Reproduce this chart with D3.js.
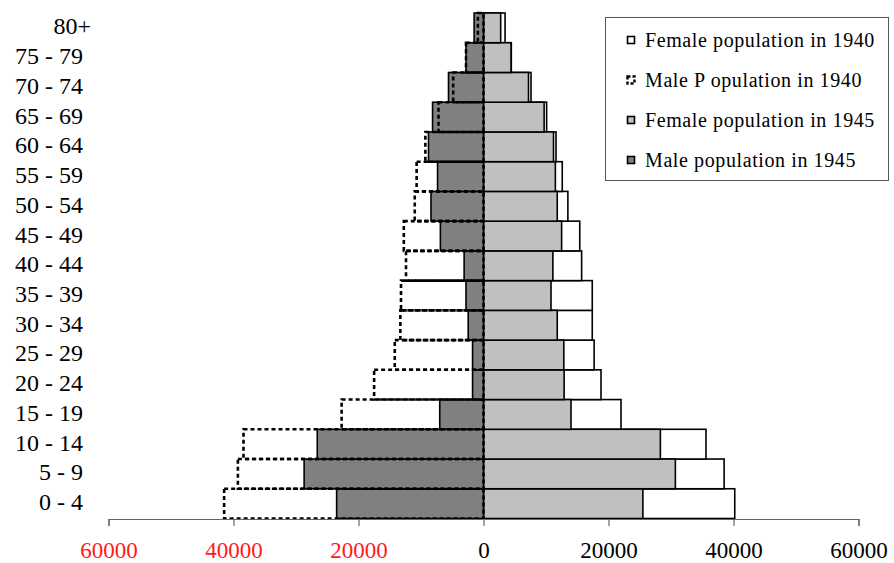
<!DOCTYPE html>
<html>
<head>
<meta charset="utf-8">
<script src="https://cdn.jsdelivr.net/npm/d3@7"></script>
<style>
  html, body { margin: 0; padding: 0; background: #fff; }
  svg { display: block; font-family: "Liberation Serif", "Times New Roman", serif; }
</style>
</head>
<body>
<svg id="chart" width="894" height="563"></svg>
<script>
const categories = ["0 - 4","5 - 9","10 - 14","15 - 19","20 - 24","25 - 29","30 - 34","35 - 39","40 - 44","45 - 49","50 - 54","55 - 59","60 - 64","65 - 69","70 - 74","75 - 79","80+"];
const female1940 = [40200, 38500, 35600, 22000, 18800, 17700, 17400, 17400, 15700, 15400, 13500, 12600, 11600, 10100, 7600, 4450, 3450];
const male1940   = [41500, 39300, 38400, 22700, 17500, 14200, 13300, 13200, 12400, 12750, 11000, 10700, 9300, 7200, 4850, 2800, 900];
const female1945 = [25500, 30700, 28300, 14000, 12900, 12850, 11800, 10800, 11100, 12500, 11800, 11500, 11200, 9700, 7200, 4400, 2750];
const male1945   = [23500, 28700, 26600, 7000, 1750, 1750, 2450, 2800, 3100, 6900, 8400, 7350, 8800, 8150, 5600, 2800, 1500];
const tickValues = [-60000, -40000, -20000, 0, 20000, 40000, 60000];
const legendLabels = ["Female population in 1940", "Male P opulation in 1940", "Female population in 1945", "Male population in 1945"];

const svg = d3.select("#chart");
const x = d3.scaleLinear().domain([-60000, 60000]).range([108.5, 858.5]);
const y = d3.scaleBand().domain(categories.slice().reverse()).range([13, 518.5]).padding(0);

const rows = categories.map((c, i) => ({c, f40: female1940[i], m40: male1940[i], f45: female1945[i], m45: male1945[i]}));

const g = svg.append("g");
// Female 1940 (white)
g.selectAll(".f40").data(rows).join("rect")
  .attr("x", x(0)).attr("y", d => y(d.c))
  .attr("width", d => x(d.f40) - x(0)).attr("height", y.bandwidth())
  .attr("fill", "#fff").attr("stroke", "#000").attr("stroke-width", 1.6);
// Female 1945 (light gray)
g.selectAll(".f45").data(rows).join("rect")
  .attr("x", x(0)).attr("y", d => y(d.c))
  .attr("width", d => x(d.f45) - x(0)).attr("height", y.bandwidth())
  .attr("fill", "#c0c0c0").attr("stroke", "#000").attr("stroke-width", 1.6);
// Male 1945 (dark gray)
g.selectAll(".m45").data(rows).join("rect")
  .attr("x", d => x(-d.m45)).attr("y", d => y(d.c))
  .attr("width", d => x(0) - x(-d.m45)).attr("height", y.bandwidth())
  .attr("fill", "#808080").attr("stroke", "#000").attr("stroke-width", 1.6);
// Male 1940 (dashed outline)
g.selectAll(".m40").data(rows).join("rect")
  .attr("x", d => x(-d.m40)).attr("y", d => y(d.c))
  .attr("width", d => x(0) - x(-d.m40)).attr("height", y.bandwidth())
  .attr("fill", "none").attr("stroke", "#000").attr("stroke-width", 2.6)
  .attr("stroke-dasharray", "4,3");

// Category labels
svg.append("g").selectAll("text").data(categories).join("text")
  .attr("x", d => d === "80+" ? 91 : 83)
  .attr("y", d => y(d) + y.bandwidth() / 2 - 1.5)
  .attr("text-anchor", "end").attr("dominant-baseline", "central")
  .attr("font-size", 24).attr("fill", "#000")
  .text(d => d);

// X axis
const axis = d3.axisBottom(x).tickValues(tickValues).tickSize(7)
  .tickFormat(d => String(Math.abs(d)));
const ax = svg.append("g").attr("transform", "translate(0,519)").call(axis);
ax.select(".domain").attr("stroke", "#666").attr("stroke-width", 1.2);
ax.selectAll(".tick line").attr("stroke", "#666").attr("stroke-width", 1.2);
ax.selectAll(".tick text")
  .attr("font-family", "Liberation Serif, Times New Roman, serif")
  .attr("font-size", 23).attr("dy", 0).attr("y", 38.5)
  .attr("fill", d => d < 0 ? "#ff1a1a" : "#000");

// Legend
const lg = svg.append("g");
lg.append("rect").attr("x", 605.5).attr("y", 17.5).attr("width", 283).attr("height", 163)
  .attr("fill", "#fff").attr("stroke", "#555").attr("stroke-width", 1);
const legendStyles = [
  {fill: "#fff", dash: null, sw: 1.6},
  {fill: "none", dash: "3,2", sw: 2.4},
  {fill: "#c0c0c0", dash: null, sw: 1.6},
  {fill: "#808080", dash: null, sw: 1.6}
];
legendLabels.forEach((lab, i) => {
  const cy = 40 + i * 40;
  const s = legendStyles[i];
  const r = lg.append("rect").attr("x", 627.5).attr("y", cy - 3.5).attr("width", 7).attr("height", 7)
    .attr("fill", s.fill).attr("stroke", "#000").attr("stroke-width", s.sw);
  if (s.dash) r.attr("stroke-dasharray", s.dash);
  lg.append("text").attr("x", 645).attr("y", cy + 6.5)
    .attr("font-size", 20).attr("letter-spacing", 0.6).attr("fill", "#000").text(lab);
});
</script>
</body>
</html>
